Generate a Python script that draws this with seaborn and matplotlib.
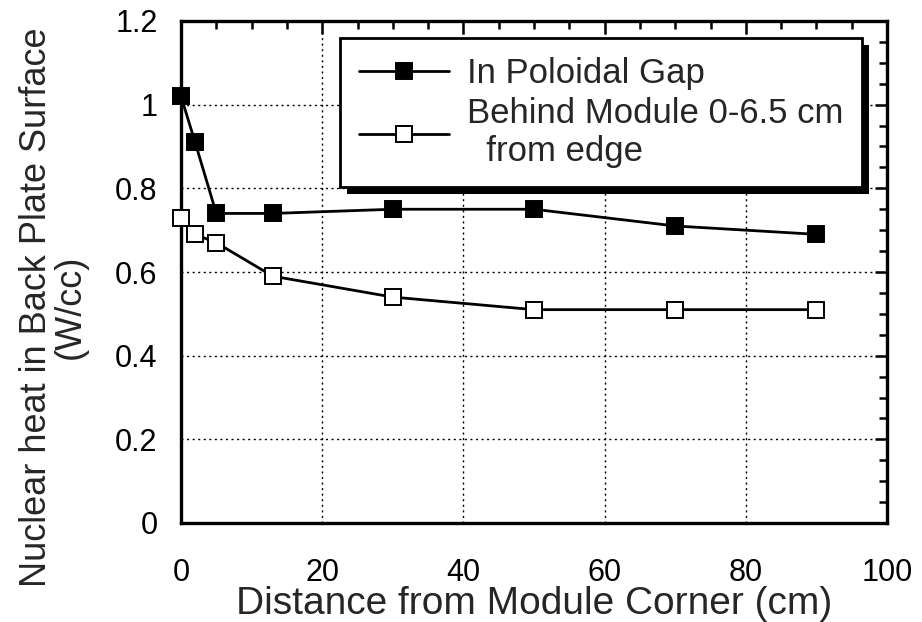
import matplotlib
matplotlib.use("Agg")
import matplotlib.pyplot as plt
import seaborn as sns
import pandas as pd
from matplotlib.ticker import MultipleLocator, FuncFormatter
from matplotlib.patches import Rectangle

# Data
distance = [0, 2, 5, 13, 30, 50, 70, 90]
gap_heat = [1.02, 0.91, 0.74, 0.74, 0.75, 0.75, 0.71, 0.69]
behind_heat = [0.73, 0.69, 0.67, 0.59, 0.54, 0.51, 0.51, 0.51]
series_labels = ["In Poloidal Gap", "Behind Module 0-6.5 cm\n  from edge"]
x_ticks = [0, 20, 40, 60, 80, 100]
y_ticks = [0, 0.2, 0.4, 0.6, 0.8, 1.0, 1.2]

sns.set_style("white")
plt.rcParams['font.family'] = ['Liberation Sans', 'DejaVu Sans']

fig = plt.figure(figsize=(9.22, 6.22), dpi=100)
ax = fig.add_axes([181/922, 1-523/622, (887-181)/922, (523-21)/622])

df1 = pd.DataFrame({"x": distance, "y": gap_heat})
df2 = pd.DataFrame({"x": distance, "y": behind_heat})

sns.lineplot(data=df1, x="x", y="y", ax=ax, color="black", lw=2.0,
             marker="s", markersize=12, markerfacecolor="black",
             markeredgecolor="black", markeredgewidth=1.4,
             label=series_labels[0], clip_on=False, zorder=5)
sns.lineplot(data=df2, x="x", y="y", ax=ax, color="black", lw=2.0,
             marker="s", markersize=12, markerfacecolor="white",
             markeredgecolor="black", markeredgewidth=1.4,
             label=series_labels[1], clip_on=False, zorder=5)

ax.set_xlim(0, 100)
ax.set_ylim(0, 1.2)
ax.set_xticks(x_ticks)
ax.set_yticks(y_ticks)
ax.xaxis.set_minor_locator(MultipleLocator(5))
ax.yaxis.set_minor_locator(MultipleLocator(0.05))
ax.yaxis.set_major_formatter(FuncFormatter(lambda v, p: f"{v:g}"))
ax.tick_params(which="both", direction="in", top=True, right=True,
               width=1.8, colors="black")
ax.tick_params(which="major", length=9, labelsize=22)
ax.tick_params(axis="x", which="major", pad=25)
ax.tick_params(axis="y", which="major", pad=17)
ax.tick_params(which="minor", length=6)
for s in ax.spines.values():
    s.set_linewidth(2.4)
    s.set_color("black")
ax.grid(True, which="major", linestyle=(0, (1.5, 2.5)), color="black", lw=1.0)

ax.set_xlabel("Distance from Module Corner (cm)", fontsize=28, labelpad=-1)
ax.set_ylabel("Nuclear heat in Back Plate Surface\n(W/cc)", fontsize=26,
              linespacing=0.95)
ax.yaxis.set_label_coords((88 - 181) / 706, (523 - 307) / 502)

leg = ax.legend(loc="upper right", bbox_to_anchor=(0.965, 0.966),
                borderaxespad=0, fontsize=25, frameon=True, fancybox=False,
                handlelength=2.6, handletextpad=0.5, labelspacing=0.2,
                borderpad=0.55, framealpha=1, edgecolor="black")
leg.get_frame().set_linewidth(2.0)
leg.set_zorder(10)

fig.canvas.draw()
bb = leg.get_window_extent()
shadow = Rectangle((bb.x0 + 7, bb.y0 - 7), bb.width, bb.height,
                   transform=None, facecolor="black", edgecolor="none",
                   zorder=9)
fig.patches.append(shadow)
shadow.set_figure(fig)
leg.remove()
fig.legends.append(leg)
leg.set_zorder(10)

fig.savefig("out.png", dpi=100)
